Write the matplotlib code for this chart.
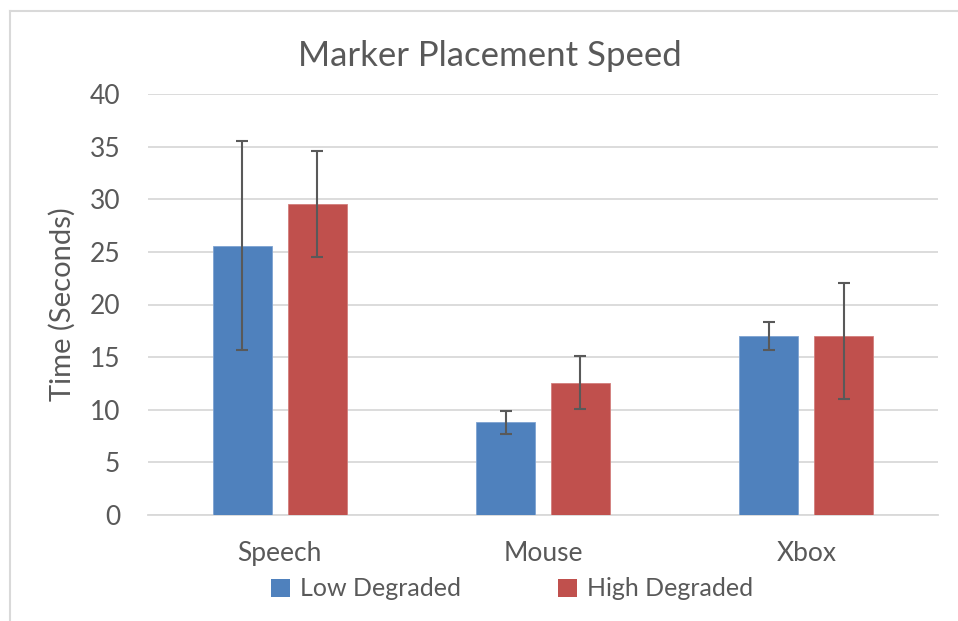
import matplotlib
matplotlib.use("Agg")
import matplotlib.pyplot as plt
from matplotlib.lines import Line2D
from matplotlib.patches import Patch
import numpy as np

plt.rcParams['font.family'] = ['Lato', 'DejaVu Sans']

categories = ["Speech", "Mouse", "Xbox"]
series_names = ["Low Degraded", "High Degraded"]
low_vals = [25.6, 8.8, 17.0]
low_err_minus = [9.9, 1.1, 1.3]
low_err_plus = [9.95, 1.1, 1.3]
high_vals = [29.55, 12.55, 17.0]
high_err_minus = [5.05, 2.5, 6.0]
high_err_plus = [5.05, 2.6, 5.05]
yticks = [0, 5, 10, 15, 20, 25, 30, 35, 40]

blue = "#4F81BD"
red = "#C0504D"
txt = "#595959"
grid = "#D9D9D9"

fig = plt.figure(figsize=(9.58, 6.21), dpi=100)
ax = fig.add_axes([148/958, 1-515/621, (938-148)/958, (515-94)/621])

x = np.arange(len(categories))
w = 0.224
off = 0.1424
ekw = dict(ecolor="#595959", elinewidth=1.5, capsize=4.5, capthick=1.5)
ax.bar(x - off, low_vals, w, color=blue, edgecolor="#7EA3D2", linewidth=0.6,
       yerr=[low_err_minus, low_err_plus], error_kw=ekw, zorder=3, label=series_names[0])
ax.bar(x + off, high_vals, w, color=red, edgecolor="#D27E7C", linewidth=0.6,
       yerr=[high_err_minus, high_err_plus], error_kw=ekw, zorder=3, label=series_names[1])

ax.set_xlim(-0.5, 2.5)
ax.set_ylim(0, 40)
ax.set_yticks(yticks)
ax.set_yticklabels([str(v) for v in yticks])
ax.set_xticks(x)
ax.set_xticklabels(categories)
ax.yaxis.grid(True, color=grid, linewidth=1.3, zorder=0)
ax.set_axisbelow(True)
for s in ["top", "right", "left"]:
    ax.spines[s].set_visible(False)
ax.spines["bottom"].set_color(grid)
ax.spines["bottom"].set_linewidth(1.3)
ax.tick_params(axis="y", length=0, colors=txt, labelsize=19, pad=20)
ax.tick_params(axis="x", length=0, colors=txt, labelsize=19, pad=19)
ax.set_ylabel("Time (Seconds)", color=txt, fontsize=21, labelpad=10)

fig.text(490/958, 1-56/621, "Marker Placement Speed", ha="center", va="center",
         color=txt, fontsize=25)

handles = [Patch(facecolor=blue), Patch(facecolor=red)]
fig.legend(handles, series_names, loc="center", bbox_to_anchor=(512/958, 1-589/621),
           ncol=2, frameon=False, fontsize=18, labelcolor=txt,
           handlelength=0.75, handleheight=0.75, handletextpad=0.4, columnspacing=3.9)

fig.add_artist(Line2D([10/958, 10/958], [0, 1-11/621], color=grid, linewidth=1.5))
fig.add_artist(Line2D([10/958, 1], [1-11/621, 1-11/621], color=grid, linewidth=1.5))

fig.savefig("out.png", dpi=100)
